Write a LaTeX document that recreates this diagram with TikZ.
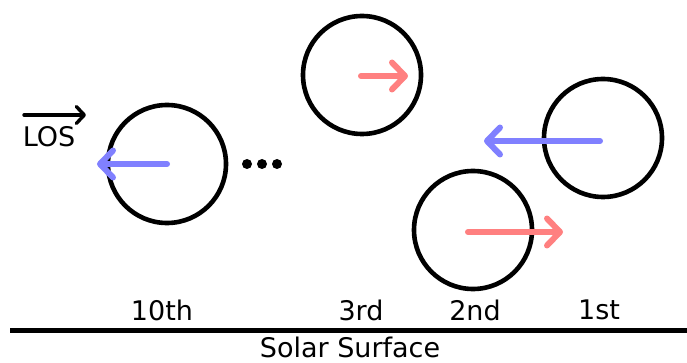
\documentclass[tikz,border=0pt]{standalone}
\usepackage{fontspec}
\setmainfont{DejaVu Sans}
\usetikzlibrary{arrows.meta,positioning}
\definecolor{losblue}{HTML}{8080FF}
\definecolor{losred}{HTML}{FF8080}
\tikzset{
  blob/.style={draw, circle, line width=4.6pt, minimum size=118pt, inner sep=0pt},
  vel/.style={line width=6pt, line cap=round,
              -{Straight Barb[length=13pt, width=27pt, line cap=round, line join=round]}},
  toward/.style={vel, draw=losblue},
  away/.style={vel, draw=losred},
  lbl/.style={font=\fontsize{27}{31}\selectfont, inner sep=0pt},
  dot/.style={fill=black, circle, inner sep=0pt, minimum size=10pt}
}
\begin{document}
\begin{tikzpicture}[x=1pt, y=-1pt]
  \useasboundingbox (0,0) rectangle (687,363);
  % plasma blobs along the line of sight
  \node[blob] (c10) at (167,164) {};
  \node[blob] (c3) at (362,75) {};
  \node[blob] (c2) at (473,230) {};
  \node[blob] (c1) at (603,138) {};
  % velocity arrows
  \coordinate (v10) at (97,164);
  \coordinate (v3) at (408,76);
  \coordinate (v2) at (563,232);
  \coordinate (v1) at (484,141);
  \draw[toward] (c10.center) -- (v10);
  \draw[away] (361,76) -- (v3);
  \draw[away] (468,232) -- (v2);
  \draw[toward] (600,141) -- (v1);
  % ellipsis between 10th and 3rd
  \node[dot] (d1) at (247,164) {};
  \node[dot] (d2) at (262,164) {};
  \node[dot] (d3) at (277,164) {};
  % line of sight direction
  \coordinate (losa) at (24,115);
  \coordinate (losb) at (86,115);
  \draw[line width=3.4pt, line cap=round,
        -{Straight Barb[length=8pt, width=17pt, line cap=round, line join=round]}] (losa) -- (losb);
  \node[lbl] (los) at (49,137) {LOS};
  % solar surface
  \coordinate (sl) at (10,330.5);
  \coordinate (sr) at (687,330.5);
  \draw[line width=5pt] (sl) -- (sr);
  \node[lbl] (surf) at (350,347) {Solar Surface};
  % order labels
  \node[lbl] (l10) at (162,310) {10th};
  \node[lbl] (l3) at (361,310) {3rd};
  \node[lbl] (l2) at (475,310) {2nd};
  \node[lbl] (l1) at (599,310) {1st};
\end{tikzpicture}
\end{document}
